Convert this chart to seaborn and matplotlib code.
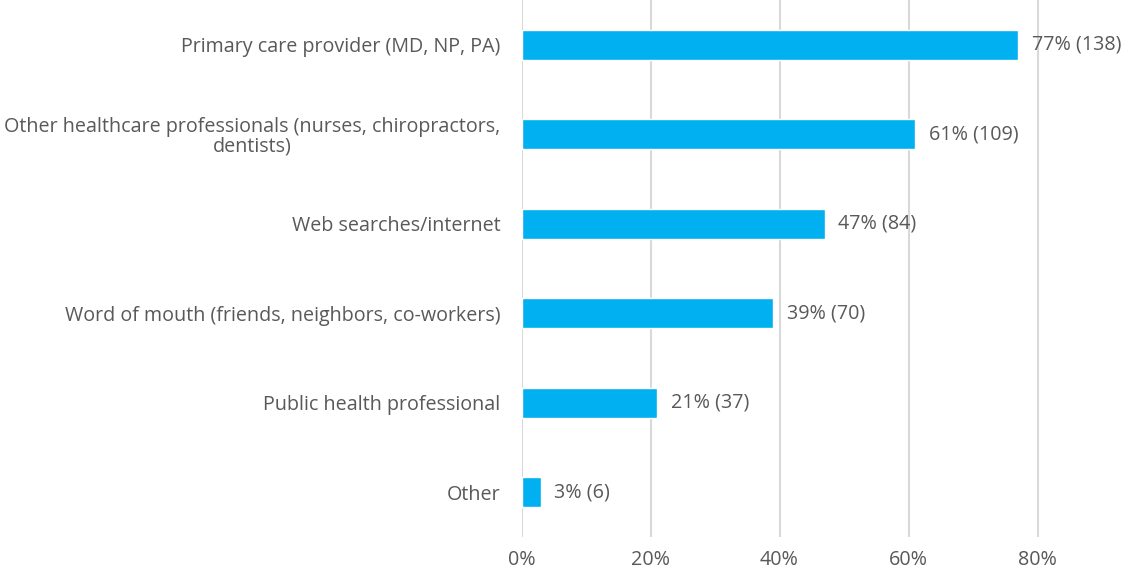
import matplotlib
matplotlib.use("Agg")
import matplotlib.pyplot as plt
import seaborn as sns
import pandas as pd

# Survey: sources of information (percent of respondents and counts)
categories = [
    "Primary care provider (MD, NP, PA)",
    "Other healthcare professionals (nurses, chiropractors,\ndentists)",
    "Web searches/internet",
    "Word of mouth (friends, neighbors, co-workers)",
    "Public health professional",
    "Other",
]
percents = [77, 61, 47, 39, 21, 3]
counts = [138, 109, 84, 70, 37, 6]
x_ticks = [0, 20, 40, 60, 80]
x_tick_labels = ["0%", "20%", "40%", "60%", "80%"]

df = pd.DataFrame({"source": categories, "pct": percents, "n": counts})

sns.set_theme(style="white")
plt.rcParams["font.family"] = ["Open Sans", "DejaVu Sans"]

text_color = "#595959"
bar_color = "#00B0F0"
grid_color = "#D9D9D9"
fs = 14.2

fig = plt.figure(figsize=(11.44, 5.73), dpi=100)
ax = fig.add_axes([0.4559, 0.0628, 0.5441, 0.9372])

sns.barplot(data=df, y="source", x="pct", orient="h", color=bar_color,
            width=0.34, saturation=1, ax=ax, zorder=3)

ax.set_xlim(0, 96.5)
ax.set_ylim(5.5, -0.5)
ax.set_xticks(x_ticks)
ax.set_xticklabels(x_tick_labels)
ax.set_xlabel("")
ax.set_ylabel("")

for s in ax.spines.values():
    s.set_visible(False)
for xv in x_ticks:
    ax.axvline(xv, color=grid_color, linewidth=1.5, zorder=1)

ax.tick_params(axis="x", length=0, pad=9, labelsize=fs, colors=text_color)
ax.tick_params(axis="y", length=0, pad=15, labelsize=fs, colors=text_color)
for lbl in ax.get_yticklabels():
    lbl.set_multialignment("center")
    lbl.set_linespacing(0.95)

for i, (p, n) in enumerate(zip(percents, counts)):
    ax.text(p + 2.1, i, f"{p}% ({n})", va="center", ha="left",
            fontsize=fs, color=text_color, zorder=4)

fig.savefig("out.png", dpi=100)
